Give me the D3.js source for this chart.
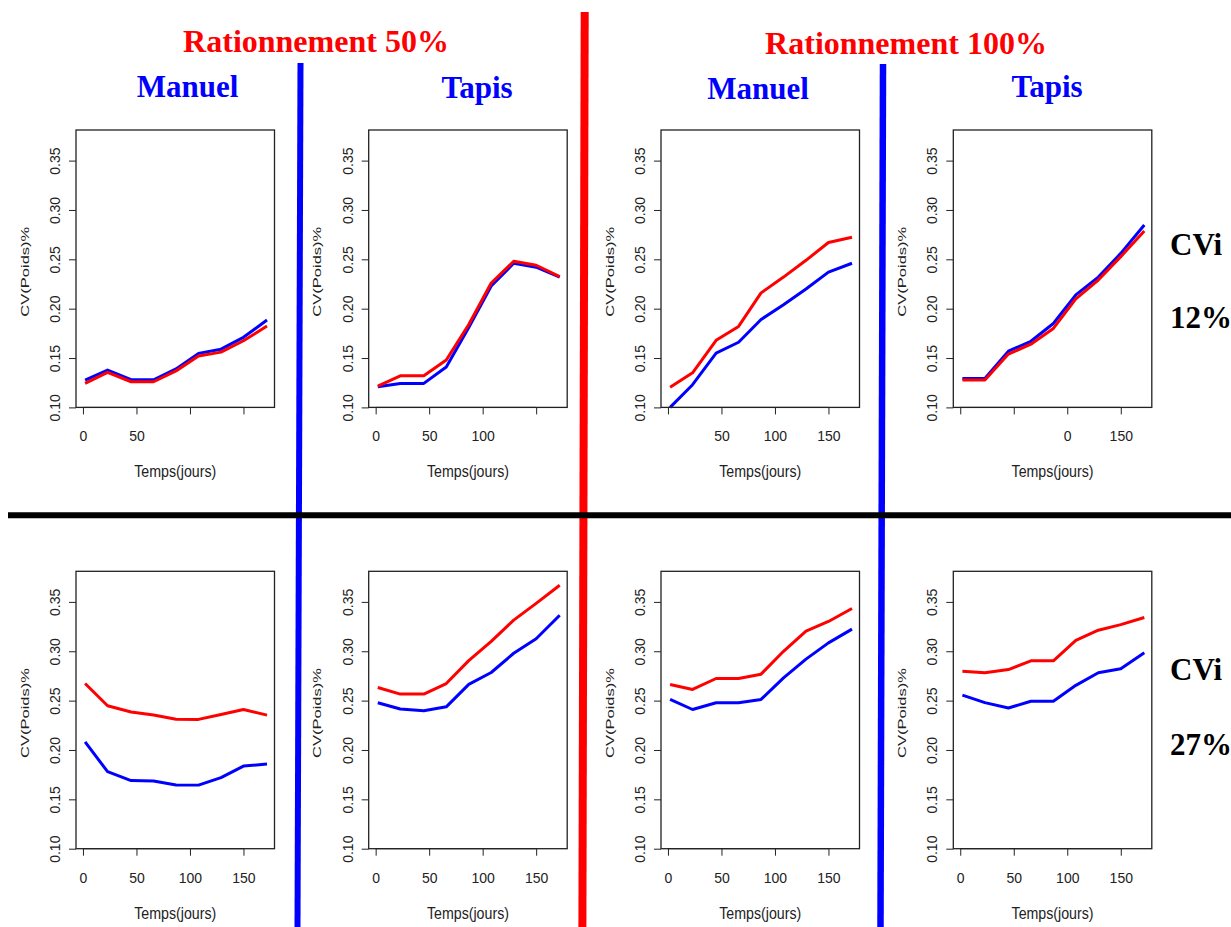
<!DOCTYPE html>
<html><head><meta charset="utf-8">
<script src="https://cdn.jsdelivr.net/npm/d3@7"></script>
<style>body{margin:0;background:#fff}svg{display:block}</style>
</head><body>
<svg id="c" width="1231" height="927"></svg>
<script>
// ---------- DATA ----------
const days = [2, 23, 45, 66, 87, 108, 129, 150, 172];
const xTicks = [0, 50, 100, 150];
const yTicks = [0.10, 0.15, 0.20, 0.25, 0.30, 0.35];
const yTickLabels = ["0.10", "0.15", "0.20", "0.25", "0.30", "0.35"];
const yTitle = "CV(Poids)%";
const xTitle = "Temps(jours)";
const rationTitles = ["Rationnement 50%", "Rationnement 100%"];
const methodTitles = ["Manuel", "Tapis", "Manuel", "Tapis"];
const cviLabels = ["CVi", "CVi"];
const cviValues = ["12%", "27%"];

// Top row (CVi 12%)
const r50ManuelCv12Blue = [0.1277, 0.1378, 0.128, 0.128, 0.139, 0.1547, 0.159, 0.171, 0.1885];
const r50ManuelCv12Red  = [0.1243, 0.1355, 0.126, 0.126, 0.137, 0.152, 0.156, 0.1675, 0.1824];
const r50TapisCv12Blue  = [0.121, 0.1243, 0.1243, 0.141, 0.181, 0.223, 0.246, 0.242, 0.232];
const r50TapisCv12Red   = [0.1216, 0.132, 0.132, 0.148, 0.184, 0.226, 0.248, 0.244, 0.2324];
const r100ManuelCv12Blue = [0.100, 0.123, 0.155, 0.166, 0.189, 0.204, 0.220, 0.237, 0.246];
const r100ManuelCv12Red  = [0.1203, 0.135, 0.168, 0.182, 0.216, 0.232, 0.249, 0.267, 0.2723];
const r100TapisCv12Blue  = [0.1294, 0.1294, 0.157, 0.167, 0.185, 0.214, 0.232, 0.256, 0.2848];
const r100TapisCv12Red   = [0.1277, 0.1277, 0.154, 0.164, 0.180, 0.210, 0.229, 0.2527, 0.2787];
// Bottom row (CVi 27%)
const r50ManuelCv27Blue = [0.2083, 0.178, 0.169, 0.1685, 0.1645, 0.1644, 0.172, 0.1837, 0.1857];
const r50ManuelCv27Red  = [0.2673, 0.2448, 0.2385, 0.2355, 0.2312, 0.231, 0.236, 0.241, 0.2353];
const r50TapisCv27Blue  = [0.2478, 0.2415, 0.2397, 0.2437, 0.2665, 0.2785, 0.298, 0.3127, 0.3365];
const r50TapisCv27Red   = [0.2633, 0.2566, 0.2566, 0.2673, 0.2905, 0.310, 0.3315, 0.3485, 0.3669];
const r100ManuelCv27Blue = [0.2512, 0.241, 0.2478, 0.2478, 0.2512, 0.273, 0.292, 0.3085, 0.3224];
const r100ManuelCv27Red  = [0.2663, 0.2613, 0.2724, 0.2724, 0.2768, 0.300, 0.3205, 0.3302, 0.3433];
const r100TapisCv27Blue  = [0.2555, 0.248, 0.2425, 0.2494, 0.2494, 0.2655, 0.2782, 0.2822, 0.2984];
const r100TapisCv27Red   = [0.2798, 0.2782, 0.2815, 0.2903, 0.2903, 0.311, 0.3213, 0.327, 0.3342];

// visible x tick labels per panel (as printed in the picture)
const xLabelsTop = [["0", "50", "", ""], ["0", "50", "100", ""], ["", "50", "100", "150"], ["", "", "0", "150"]];
const xLabelsBottom = [["0", "50", "100", "150"], ["0", "50", "100", "150"], ["0", "50", "100", "150"], ["0", "50", "100", "150"]];

// ---------- LAYOUT ----------
const svg = d3.select("#c");
const colLeft = [76, 368.7, 661, 953.3];
const rowTop = [130, 571.3];
const boxW = 198.5, boxH = 277.4;
const xDomain = [-6.5, 179];
const yDomain = [0.10, 0.381];
const BLUE = "#0000ff", RED = "#ff0000";

const panels = [
  {c:0, r:0, blue:r50ManuelCv12Blue, red:r50ManuelCv12Red, labels:xLabelsTop[0]},
  {c:1, r:0, blue:r50TapisCv12Blue, red:r50TapisCv12Red, labels:xLabelsTop[1]},
  {c:2, r:0, blue:r100ManuelCv12Blue, red:r100ManuelCv12Red, labels:xLabelsTop[2]},
  {c:3, r:0, blue:r100TapisCv12Blue, red:r100TapisCv12Red, labels:xLabelsTop[3]},
  {c:0, r:1, blue:r50ManuelCv27Blue, red:r50ManuelCv27Red, labels:xLabelsBottom[0]},
  {c:1, r:1, blue:r50TapisCv27Blue, red:r50TapisCv27Red, labels:xLabelsBottom[1]},
  {c:2, r:1, blue:r100ManuelCv27Blue, red:r100ManuelCv27Red, labels:xLabelsBottom[2]},
  {c:3, r:1, blue:r100TapisCv27Blue, red:r100TapisCv27Red, labels:xLabelsBottom[3]},
];

const axFont = "'Liberation Sans', Arial, sans-serif";
const serif = "'Liberation Serif', 'Times New Roman', serif";

panels.forEach(p => {
  const g = svg.append("g").attr("transform", `translate(${colLeft[p.c]},${rowTop[p.r]})`);
  const x = d3.scaleLinear().domain(xDomain).range([0, boxW]);
  const y = d3.scaleLinear().domain(yDomain).range([boxH, 0]);

  // lines
  const line = d3.line().x((d, i) => x(days[i])).y(d => y(d));
  g.append("path").datum(p.blue).attr("d", line).attr("fill", "none")
    .attr("stroke", BLUE).attr("stroke-width", 3).attr("stroke-linejoin", "round");
  g.append("path").datum(p.red).attr("d", line).attr("fill", "none")
    .attr("stroke", RED).attr("stroke-width", 3).attr("stroke-linejoin", "round");

  // box
  g.append("rect").attr("x", 0).attr("y", 0).attr("width", boxW).attr("height", boxH)
    .attr("fill", "none").attr("stroke", "#222").attr("stroke-width", 1.3);

  // y axis
  const ya = g.append("g").call(d3.axisLeft(y).tickValues(yTicks).tickSize(7)
      .tickFormat((d, i) => yTickLabels[i]));
  ya.select(".domain").remove();
  ya.selectAll("line").attr("stroke", "#222");
  ya.selectAll("text").attr("transform", "rotate(-90)").attr("x", 0).attr("y", -16)
    .attr("dy", 0).attr("text-anchor", "middle")
    .attr("font-family", axFont).attr("font-size", 14).attr("fill", "#222");

  // x axis
  const xa = g.append("g").attr("transform", `translate(0,${boxH})`)
    .call(d3.axisBottom(x).tickValues(xTicks).tickSize(7).tickFormat((d, i) => p.labels[i]));
  xa.select(".domain").remove();
  xa.append("line").attr("x1", x(xTicks[0])).attr("x2", x(xTicks[xTicks.length - 1]))
    .attr("y1", 0).attr("y2", 0).attr("stroke", "#222");
  xa.selectAll("line").attr("stroke", "#222");
  xa.selectAll("text").attr("y", 34).attr("dy", 0)
    .attr("font-family", axFont).attr("font-size", 14).attr("fill", "#222");

  // axis titles
  g.append("text").attr("transform", `translate(${-47.5},${boxH / 2 + 3}) rotate(-90)`)
    .attr("text-anchor", "middle").attr("font-family", axFont).attr("font-size", 11.5)
    .attr("textLength", 90).attr("lengthAdjust", "spacingAndGlyphs").attr("fill", "#222")
    .text(yTitle);
  g.append("text").attr("transform", `translate(${boxW / 2},${boxH + 70}) scale(1,1.2)`)
    .attr("text-anchor", "middle").attr("font-family", axFont).attr("font-size", 13)
    .attr("textLength", 82).attr("lengthAdjust", "spacingAndGlyphs").attr("fill", "#222")
    .text(xTitle);
});

// ---------- HEADERS ----------
const rationX = [316, 906], rationY = [52, 54];
rationTitles.forEach((t, i) => {
  svg.append("text").attr("x", rationX[i]).attr("y", rationY[i]).attr("text-anchor", "middle")
    .attr("font-family", serif).attr("font-weight", "bold").attr("font-size", 32)
    .attr("fill", RED).text(t);
});
const methodX = [187.5, 477, 758, 1047], methodY = [97, 98, 99, 97];
methodTitles.forEach((t, i) => {
  svg.append("text").attr("x", methodX[i]).attr("y", methodY[i]).attr("text-anchor", "middle")
    .attr("font-family", serif).attr("font-weight", "bold").attr("font-size", 31)
    .attr("fill", BLUE).text(t);
});
const cviY = [[255, 328], [680, 755]];
cviLabels.forEach((t, i) => {
  svg.append("text").attr("x", 1170).attr("y", cviY[i][0])
    .attr("font-family", serif).attr("font-weight", "bold").attr("font-size", 31)
    .attr("fill", "#000").text(t);
  svg.append("text").attr("x", 1170).attr("y", cviY[i][1])
    .attr("font-family", serif).attr("font-weight", "bold").attr("font-size", 31)
    .attr("fill", "#000").text(cviValues[i]);
});

// ---------- SEPARATORS ----------
svg.append("line").attr("x1", 300.5).attr("y1", 63).attr("x2", 297.5).attr("y2", 927)
  .attr("stroke", BLUE).attr("stroke-width", 6);
svg.append("line").attr("x1", 883).attr("y1", 64).attr("x2", 880.5).attr("y2", 927)
  .attr("stroke", BLUE).attr("stroke-width", 6.5);
svg.append("line").attr("x1", 584.7).attr("y1", 12).attr("x2", 582.4).attr("y2", 927)
  .attr("stroke", RED).attr("stroke-width", 8);
svg.append("line").attr("x1", 8).attr("y1", 515.3).attr("x2", 1231).attr("y2", 515.3)
  .attr("stroke", "#000").attr("stroke-width", 6);
</script>
</body></html>
